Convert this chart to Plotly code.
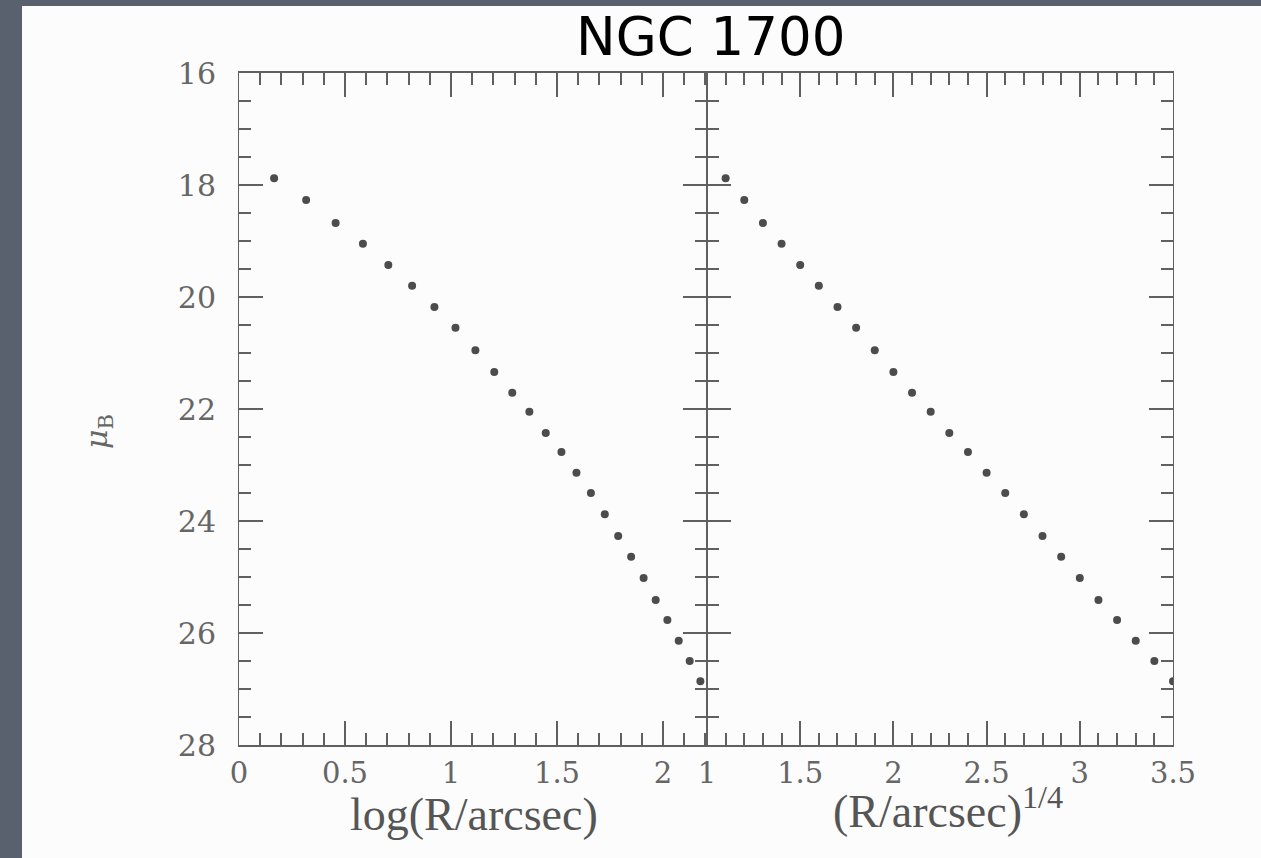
import numpy as np
import plotly.graph_objects as go

# Data: surface brightness profile of NGC 1700
r_quarter = [1.1, 1.2, 1.3, 1.4, 1.5, 1.6, 1.7, 1.8, 1.9, 2.0, 2.1, 2.2, 2.3,
             2.4, 2.5, 2.6, 2.7, 2.8, 2.9, 3.0, 3.1, 3.2, 3.3, 3.4, 3.5]
mu_b = [17.88, 18.27, 18.68, 19.05, 19.43, 19.80, 20.18, 20.55, 20.95, 21.34,
        21.71, 22.05, 22.43, 22.77, 23.14, 23.50, 23.88, 24.27, 24.64, 25.02,
        25.41, 25.77, 26.14, 26.50, 26.86]
log_r = [4 * np.log10(v) for v in r_quarter]

left_ticks = [0, 0.5, 1, 1.5, 2]
left_ticklabels = ["0", "0.5", "1", "1.5", "2"]
right_ticks = [1, 1.5, 2, 2.5, 3, 3.5]
right_ticklabels = ["1", "1.5", "2", "2.5", "3", "3.5"]
y_ticks = [16, 18, 20, 22, 24, 26, 28]

W, H = 1261, 858
ML, MR, MT, MB = 239, 88, 73, 113
PW = W - ML - MR
PH = H - MT - MB
split = (707 - ML) / PW

def px(x):
    return (x - ML) / PW

def py(y):
    return (H - MB - y) / PH

AX = "#606060"
DOT = "#4c4c4c"

fig = go.Figure()
fig.add_trace(go.Scatter(x=log_r, y=mu_b, mode="markers", xaxis="x", yaxis="y",
                         marker=dict(size=8, color=DOT), showlegend=False))
fig.add_trace(go.Scatter(x=r_quarter, y=mu_b, mode="markers", xaxis="x2", yaxis="y2",
                         marker=dict(size=8, color=DOT), showlegend=False))

xcommon = dict(showline=True, linecolor=AX, linewidth=1.5, mirror="ticks",
               ticks="inside", tickcolor=AX, tickwidth=1.5, ticklen=24,
               showgrid=False, zeroline=False)
ycommon = dict(showline=True, linecolor=AX, linewidth=1, mirror="ticks",
               ticks="inside", tickcolor=AX, tickwidth=1.5, ticklen=24,
               showgrid=False, zeroline=False)
xfont = dict(family="DejaVu Serif", size=29, color="#666666")
yfont = dict(family="DejaVu Serif", size=30, color="#666666")

fig.update_layout(
    width=W, height=H,
    margin=dict(l=ML, r=MR, t=MT, b=MB, pad=0),
    paper_bgcolor="#5a616e",
    plot_bgcolor="rgba(0,0,0,0)",
    xaxis=dict(domain=[0, split], range=[0, 2.2075], anchor="y",
               tickvals=left_ticks, ticktext=left_ticklabels, tickfont=xfont,
               ticklabelstandoff=1,
               minor=dict(dtick=0.1, tick0=0, ticks="inside", ticklen=12,
                          tickcolor=AX, tickwidth=1.5, showgrid=False),
               **xcommon),
    xaxis2=dict(domain=[split, 1], range=[1, 3.5], anchor="y2",
                tickvals=right_ticks, ticktext=right_ticklabels, tickfont=xfont,
                ticklabelstandoff=1,
                minor=dict(dtick=0.1, tick0=1, ticks="inside", ticklen=12,
                           tickcolor=AX, tickwidth=1.5, showgrid=False),
                **xcommon),
    yaxis=dict(range=[28, 16], anchor="x", tickvals=y_ticks, tickfont=yfont,
               ticklabelstandoff=16,
               minor=dict(dtick=0.5, tick0=16, ticks="inside", ticklen=12,
                          tickcolor=AX, tickwidth=1.5, showgrid=False),
               **ycommon),
    yaxis2=dict(range=[28, 16], anchor="x2", matches="y", showticklabels=False,
                tickvals=y_ticks,
                minor=dict(dtick=0.5, tick0=16, ticks="inside", ticklen=12,
                           tickcolor=AX, tickwidth=1.5, showgrid=False),
                **ycommon),
    shapes=[dict(type="rect", xref="paper", yref="paper",
                 x0=px(22), x1=px(W + 10), y0=py(H + 10), y1=py(6),
                 fillcolor="#fcfcfc", line=dict(width=0), layer="below")],
    annotations=[
        dict(text="NGC 1700", x=px(710), y=py(37), xref="paper", yref="paper",
             xanchor="center", yanchor="middle", showarrow=False,
             font=dict(family="DejaVu Sans", size=53, color="#000000")),
        dict(text="log(R/arcsec)", x=px(474), y=py(814), xref="paper", yref="paper",
             xanchor="center", yanchor="middle", showarrow=False,
             font=dict(family="Liberation Serif", size=46, color="#555555")),
        dict(text="(R/arcsec)<sup>1/4</sup>", x=px(948), y=py(808), xref="paper",
             yref="paper", xanchor="center", yanchor="middle", showarrow=False,
             font=dict(family="Liberation Serif", size=46, color="#555555")),
        dict(text="<i>μ</i><sub>B</sub>", x=px(98), y=py(432), xref="paper",
             yref="paper", xanchor="center", yanchor="middle", showarrow=False,
             textangle=-90,
             font=dict(family="DejaVu Serif", size=30, color="#666666")),
    ],
)

fig.write_html("out.html")
